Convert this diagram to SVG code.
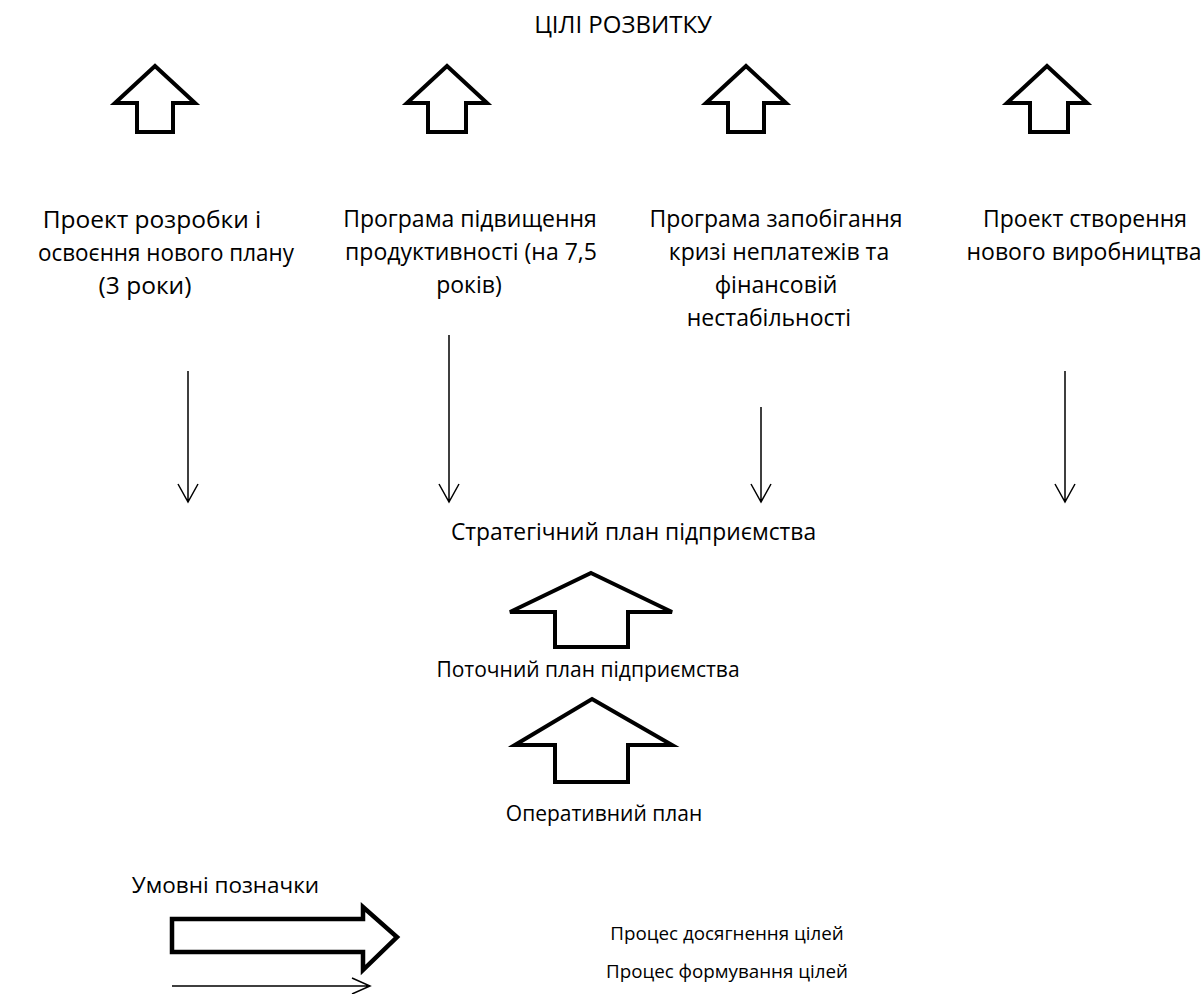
<svg xmlns="http://www.w3.org/2000/svg" width="1203" height="994" viewBox="0 0 1203 994">
<defs>
<style>
text{font-family:"Open Sans","Noto Sans","DejaVu Sans",sans-serif;fill:#000;text-anchor:middle}
.blk{stroke:#000;stroke-width:4;fill:#fff;stroke-linejoin:miter}
.thin{stroke:#000;stroke-width:1.5;fill:none}
.t1{font-size:24.5px}
.t2{font-size:23px}
.t3{font-size:21px}
.t4{font-size:18.8px}
</style>
</defs>
<rect width="1203" height="994" fill="#fff"/>
<g id="title"><text x="623" y="33" style="font-size:24px">ЦІЛІ РОЗВИТКУ</text></g>
<g id="goal-arrows">
<polygon class="blk" points="155,66 195,103 173,103 173,132 137,132 137,103 115,103"/>
<polygon class="blk" points="447,66 487,103 466,103 466,132 428,132 428,103 407,103"/>
<polygon class="blk" points="746,66 786,103 764,103 764,132 728,132 728,103 706,103"/>
<polygon class="blk" points="1047,66 1087,103 1068,103 1068,132 1030,132 1030,103 1007,103"/>
</g>
<g id="node-project1" class="t1">
<text x="152" y="228">Проект розробки і</text>
<text x="166" y="261" textLength="256" lengthAdjust="spacingAndGlyphs">освоєння нового плану</text>
<text x="145" y="294">(3 роки)</text>
</g>
<g id="node-program1" class="t2">
<text x="470" y="227">Програма підвищення</text>
<text x="471" y="260">продуктивності (на 7,5</text>
<text x="469" y="293">років)</text>
</g>
<g id="node-program2" class="t2">
<text x="776" y="227">Програма запобігання</text>
<text x="779" y="260">кризі неплатежів та</text>
<text x="776" y="293">фінансовій</text>
<text x="769" y="326">нестабільності</text>
</g>
<g id="node-project2" class="t2">
<text x="1085" y="227">Проект створення</text>
<text x="1084" y="260">нового виробництва</text>
</g>
<g id="connectors">
<path class="thin" d="M188,371 V502 M178,484 L188,502 L198,484"/>
<path class="thin" d="M449,335 V502 M439,484 L449,502 L459,484"/>
<path class="thin" d="M761,407 V502 M751,484 L761,502 L771,484"/>
<path class="thin" d="M1065,371 V502 M1055,484 L1065,502 L1075,484"/>
</g>
<g id="node-strategic"><text x="633.5" y="540" style="font-size:22.8px">Стратегічний план підприємства</text></g>
<g id="arrow-current-to-strategic"><polygon class="blk" points="591,573 672,612 628,612 628,647 555,647 555,612 510,612"/></g>
<g id="node-current"><text class="t3" x="588" y="677">Поточний план підприємства</text></g>
<g id="arrow-operative-to-current"><polygon class="blk" points="592,699 672,745 628,745 628,782 555,782 555,745 515,745"/></g>
<g id="node-operative"><text class="t3" x="604" y="821">Оперативний план</text></g>
<g id="legend">
<text x="225.5" y="893" style="font-size:22.5px">Умовні позначки</text>
<polygon class="blk" style="stroke-width:4.5" points="172,919 363,919 363,907 397,937 363,970 363,952 172,952"/>
<path class="thin" d="M172,986 H370 M352,978 L370,986 L352,994"/>
<text class="t4" x="727" y="940">Процес досягнення цілей</text>
<text class="t4" x="727" y="978">Процес формування цілей</text>
</g>
</svg>
